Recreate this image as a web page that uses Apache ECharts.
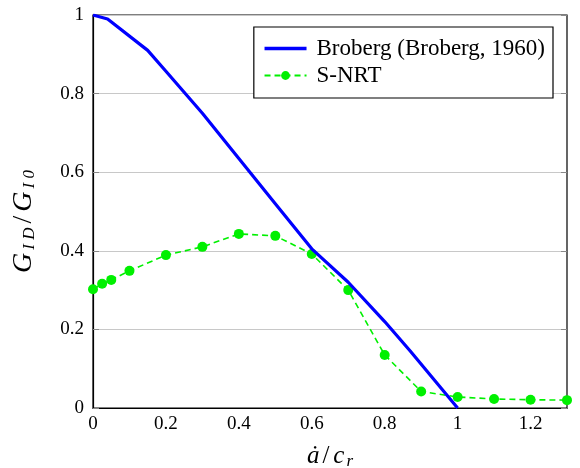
<!DOCTYPE html>
<html>
<head>
<meta charset="utf-8">
<script src="https://cdn.jsdelivr.net/npm/echarts@6/dist/echarts.min.js"></script>
<style>
  html, body { margin: 0; padding: 0; background: #fff; }
  #chart { width: 580px; height: 468px; }
</style>
</head>
<body>
<div id="chart"></div>
<script>
// Normalised crack speed vs. dynamic energy release rate ratio
const brobergX = [0, 0.04, 0.15, 0.2, 0.3, 0.4, 0.5, 0.6, 0.7, 0.8, 0.87, 1.0];
const brobergY = [1, 0.99, 0.91, 0.857, 0.75, 0.635, 0.52, 0.405, 0.32, 0.22, 0.145, 0];

const snrtX = [0, 0.025, 0.05, 0.1, 0.2, 0.3, 0.4, 0.5, 0.6, 0.7, 0.8, 0.9, 1.0, 1.1, 1.2, 1.3];
const snrtY = [0.302, 0.316, 0.326, 0.349, 0.389, 0.41, 0.443, 0.438, 0.392, 0.30, 0.135, 0.042, 0.028, 0.023, 0.021, 0.020];

const yTicks = [0, 0.2, 0.4, 0.6, 0.8, 1];
const xTicks = [0, 0.2, 0.4, 0.6, 0.8, 1, 1.2];

const FONT = 'Liberation Serif';

const pairs = (xs, ys) => xs.map((x, i) => [x, ys[i]]);
const tickText = (ticks) => v => (ticks.some(t => Math.abs(t - v) < 1e-9) ? String(+v.toFixed(1)) : '');

// rich-text styles for the math-style axis titles
const xRich = {
  it: { fontFamily: FONT, fontStyle: 'italic', fontSize: 25, color: '#000' },
  rm: { fontFamily: FONT, fontSize: 25, color: '#000', padding: [0, 4, 0, 3] },
  sub: { fontFamily: FONT, fontStyle: 'italic', fontSize: 17, color: '#000', verticalAlign: 'bottom', padding: [10, 0, 0, 2] }
};
const yRich = {
  it: { fontFamily: FONT, fontStyle: 'italic', fontSize: 28, color: '#000' },
  rm: { fontFamily: FONT, fontSize: 28, color: '#000', padding: [0, 4, 0, 4] },
  sub: { fontFamily: FONT, fontStyle: 'italic', fontSize: 17, color: '#000', verticalAlign: 'bottom', padding: [10, 0, 0, 3] },
  subEnd: { fontFamily: FONT, fontStyle: 'italic', fontSize: 17, color: '#000', verticalAlign: 'bottom', padding: [10, 20, 0, 3] }
};

const chart = echarts.init(document.getElementById('chart'), null, { renderer: 'canvas' });

chart.setOption({
  animation: false,
  textStyle: { fontFamily: FONT },
  grid: {
    left: 93, right: 13, top: 15, bottom: 60,
    outerBoundsMode: 'none',
    containLabel: false,
    show: true, borderColor: '#000', borderWidth: 1.2, backgroundColor: 'transparent'
  },
  legend: {
    right: 27, top: 27,
    orient: 'vertical',
    backgroundColor: '#fff',
    borderColor: '#000', borderWidth: 1.2,
    padding: [10, 8, 11, 9],
    itemGap: 4,
    itemWidth: 42, itemHeight: 11,
    textStyle: { fontFamily: FONT, fontSize: 23, color: '#000', padding: [0, 0, 0, 5] },
    data: [
      { name: 'Broberg (Broberg, 1960)', itemStyle: { opacity: 0 }, lineStyle: { width: 3.4 } },
      { name: 'S-NRT' }
    ]
  },
  xAxis: {
    type: 'value',
    min: 0, max: 1.3, interval: 0.2,
    name: '{it|ȧ}{rm|/}{it|c}{sub|r}',
    nameLocation: 'middle', nameGap: 35,
    nameTextStyle: { fontFamily: FONT, fontSize: 25, color: '#000', rich: xRich },
    axisLine: { show: true, lineStyle: { color: '#000', width: 1.2 } },
    axisTick: { show: false },
    splitLine: { show: false },
    axisLabel: {
      showMaxLabel: false, margin: 7,
      fontFamily: FONT, fontSize: 19, color: '#000',
      formatter: tickText(xTicks)
    }
  },
  yAxis: [{
    type: 'value',
    min: 0, max: 1, interval: 0.2,
    name: '{it|G}{sub|I D}{rm|/}{it|G}{subEnd|I 0}',
    nameLocation: 'middle', nameGap: 55, nameRotate: 90,
    nameTextStyle: { fontFamily: FONT, fontSize: 28, color: '#000', rich: yRich },
    axisLine: { show: true, lineStyle: { color: '#000', width: 1.2 } },
    axisTick: { show: true, inside: true, length: 6, lineStyle: { color: '#888' } },
    splitLine: { show: true, lineStyle: { color: '#c8c8c8', width: 1 } },
    axisLabel: {
      margin: 9, fontFamily: FONT, fontSize: 19, color: '#000',
      formatter: tickText(yTicks)
    }
  }, {
    type: 'value', position: 'right',
    min: 0, max: 1, interval: 0.2,
    axisLine: { show: false },
    axisTick: { show: true, inside: true, length: 6, lineStyle: { color: '#888' } },
    axisLabel: { show: false },
    splitLine: { show: false }
  }],
  series: [{
    name: 'Broberg (Broberg, 1960)',
    type: 'line',
    data: pairs(brobergX, brobergY),
    showSymbol: false, symbol: 'none',
    lineStyle: { color: '#0000ff', width: 3.2 },
    itemStyle: { color: '#0000ff' },
    z: 3
  }, {
    name: 'S-NRT',
    type: 'line',
    data: pairs(snrtX, snrtY),
    symbol: 'circle', symbolSize: 10,
    lineStyle: { color: '#00f000', width: 1.6, type: [6, 4] },
    itemStyle: { color: '#00f000' },
    z: 2
  }]
});
</script>
</body>
</html>
